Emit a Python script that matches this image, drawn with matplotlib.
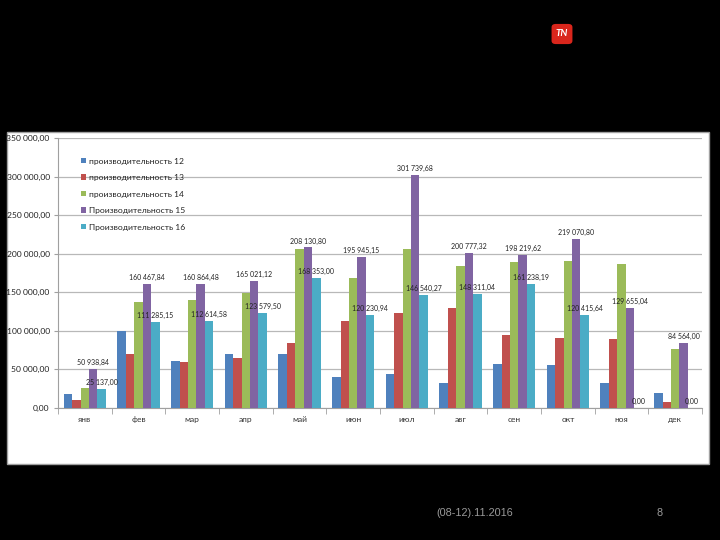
import numpy as np
import matplotlib
matplotlib.use('Agg')
import matplotlib.pyplot as plt
from matplotlib.patches import Rectangle, FancyBboxPatch

plt.rcParams['font.family'] = ['Lato', 'DejaVu Sans']

# Data
months = ['янв', 'фев', 'мар', 'апр', 'май', 'июн', 'июл', 'авг', 'сен', 'окт', 'ноя', 'дек']
series_names = ['производительность 12', 'производительность 13', 'производительность 14',
                'Производительность 15', 'Производительность 16']
p12 = [18500, 100000, 60500, 70400, 70400, 39900, 44200, 32600, 57000, 56200, 32600, 19700]
p13 = [10000, 69500, 59600, 64800, 84500, 112400, 123600, 130000, 94000, 90500, 88800, 8150]
p14 = [25500, 138000, 139400, 148900, 206300, 168200, 206000, 184000, 189200, 190500, 186200, 76800]
p15 = [50938.84, 160467.84, 160864.48, 165021.12, 208130.80, 195945.15, 301739.68,
       200777.32, 198219.62, 219070.80, 129655.04, 84564.00]
p16 = [25137.00, 111285.15, 112614.58, 123579.50, 168353.00, 120230.94, 146540.27,
       148311.04, 161238.19, 120415.64, 0.00, 0.00]

colors = ['#4F81BD', '#C0504D', '#9BBB59', '#8064A2', '#4BACC6']


def fmt(v):
    s = f'{v:,.2f}'
    return s.replace(',', ' ').replace('.', ',')


fig = plt.figure(figsize=(7.2, 5.4), dpi=100, facecolor='black')

# white chart panel
fig.patches.append(Rectangle((7 / 720, 1 - 464 / 540), (709 - 7) / 720, (464 - 132) / 540,
                             transform=fig.transFigure, facecolor='white',
                             edgecolor='#a0a0a0', linewidth=1, zorder=-5))

ax = fig.add_axes([58 / 720, 1 - 408 / 540, (702 - 58) / 720, (408 - 138) / 540])
ax.set_facecolor('none')

x = np.arange(len(months))
w = 0.157
all_series = [p12, p13, p14, p15, p16]
bars = []
for i, (vals, name, c) in enumerate(zip(all_series, series_names, colors)):
    b = ax.bar(x + (i - 2) * w, vals, width=w, color=c, label=name, zorder=3)
    bars.append(b)

for b, vals in [(bars[3], p15), (bars[4], p16)]:
    ax.bar_label(b, labels=[fmt(v) for v in vals], fontsize=5.0, color='#222222',
                 padding=2, zorder=5)

ax.set_xlim(-0.5, len(months) - 0.5)
ax.set_ylim(0, 350000)
yt = np.arange(0, 350001, 50000)
ax.set_yticks(yt)
ax.set_yticklabels([fmt(v) for v in yt], fontsize=6.1, color='#222222')
ax.yaxis.grid(True, color='#b8b8b8', linewidth=0.9, zorder=0)
ax.tick_params(axis='y', length=3, color='#a0a0a0', pad=3)

ax.set_xticks(x)
ax.set_xticklabels(months, fontsize=6, color='#333333')
ax.set_xticks(np.arange(-0.5, len(months), 1), minor=True)
ax.tick_params(axis='x', which='major', length=0, pad=6)
ax.tick_params(axis='x', which='minor', length=4, color='#a0a0a0')

for s in ['top', 'right']:
    ax.spines[s].set_visible(False)
ax.spines['left'].set_color('#a0a0a0')
ax.spines['bottom'].set_color('#a0a0a0')

leg = ax.legend(loc='upper left', bbox_to_anchor=(73 / 720, 1 - 150 / 540),
                bbox_transform=fig.transFigure, frameon=False, fontsize=6.1,
                handlelength=0.6, handleheight=0.6, handletextpad=0.35,
                labelspacing=1.12)
for t in leg.get_texts():
    t.set_color('#222222')

# footer
fig.text(475 / 720, 1 - 513 / 540, '(08-12).11.2016', color='#9a9a9a', fontsize=7.8,
         ha='center', va='center', family=['Liberation Sans', 'DejaVu Sans'])
fig.text(660 / 720, 1 - 513 / 540, '8', color='#9a9a9a', fontsize=7.8,
         ha='center', va='center', family=['Liberation Sans', 'DejaVu Sans'])

# logo
fig.patches.append(FancyBboxPatch((553 / 720, 1 - 43 / 540), 18 / 720, 18 / 540,
                                  boxstyle='round,pad=0.002,rounding_size=0.006',
                                  transform=fig.transFigure, facecolor='#d9261c',
                                  edgecolor='none'))
fig.text(562 / 720, 1 - 34 / 540, 'TN', color='white', fontsize=7, fontweight='bold',
         style='italic', ha='center', va='center')

fig.savefig('out.png', dpi=100, facecolor='black')
